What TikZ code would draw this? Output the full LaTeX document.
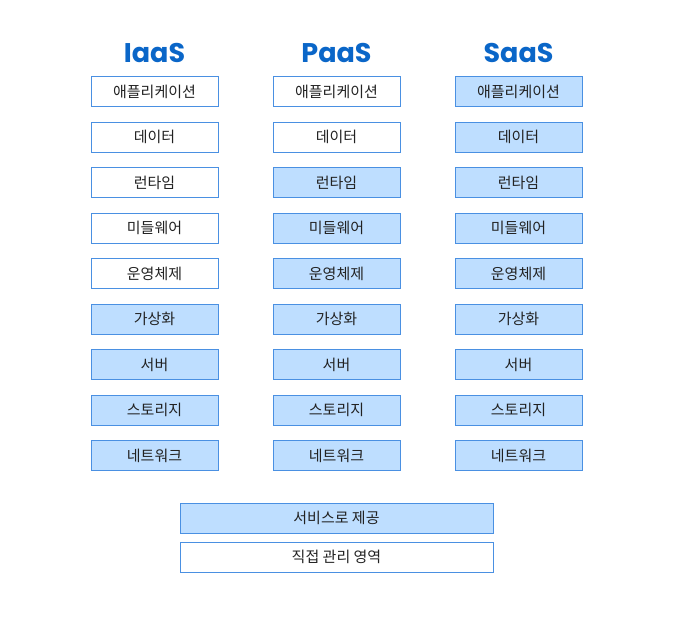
\documentclass[tikz,border=0pt]{standalone}
\usepackage{fontspec}
\newfontfamily\kor{Noto Sans CJK KR}
\newfontfamily\titlefont{Poppins Bold}
\definecolor{bordercol}{RGB}{74,144,226}
\definecolor{fillcol}{RGB}{190,222,255}
\definecolor{titlecol}{RGB}{10,102,200}
\definecolor{txtcol}{RGB}{34,34,34}
\begin{document}
\begin{tikzpicture}[x=1pt,y=-1pt,
  cell/.style={draw=bordercol,line width=1pt,minimum width=127pt,minimum height=30pt,inner sep=0pt,font=\kor\fontsize{15}{16}\selectfont,text=txtcol},
  managed/.style={cell,fill=fillcol},
  own/.style={cell,fill=white},
  ttl/.style={font=\titlefont\fontsize{27}{30}\selectfont,text=titlecol,inner sep=0pt}]
\useasboundingbox (0,0) rectangle (674,618);
\node[ttl] (t1) at (154.5,53) {IaaS};
\node[ttl] (t2) at (336.5,53) {PaaS};
\node[ttl] (t3) at (518.5,53) {SaaS};
\foreach \i/\t in {1/애플리케이션,2/데이터,3/런타임,4/미들웨어,5/운영체제,6/가상화,7/서버,8/스토리지,9/네트워크}{
  \pgfmathsetmacro{\yy}{91.5+(\i-1)*45.5}
  \ifnum\i<6 \node[own] (i\i) at (154.5,\yy) {\t};\else \node[managed] (i\i) at (154.5,\yy) {\t};\fi
  \ifnum\i<3 \node[own] (p\i) at (336.5,\yy) {\t};\else \node[managed] (p\i) at (336.5,\yy) {\t};\fi
  \node[managed] (s\i) at (518.5,\yy) {\t};
}
\node[managed,minimum width=313pt] (l1) at (336.5,518.3) {서비스로 제공};
\node[own,minimum width=313pt] (l2) at (336.5,557.3) {직접 관리 영역};
\end{tikzpicture}
\end{document}
